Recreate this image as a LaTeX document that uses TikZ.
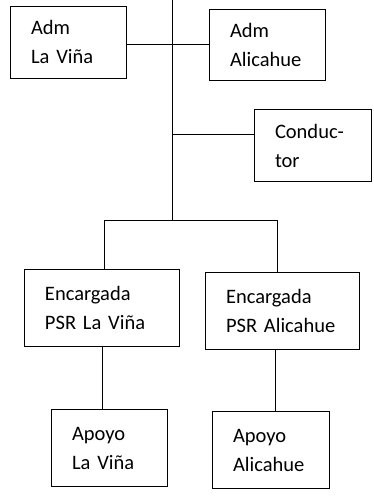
\documentclass[tikz,border=0pt]{standalone}
\usepackage{fontspec}
\setmainfont{Carlito}
\usetikzlibrary{positioning}
\tikzset{
  orgbox/.style={draw, line width=1pt, align=left, inner xsep=21pt, inner ysep=0pt,
    font=\fontsize{20.5}{29}\selectfont},
  orgline/.style={line width=1pt},
}
\begin{document}
\begin{tikzpicture}[x=1pt,y=-1pt]
\useasboundingbox (0,0) rectangle (374,499);

% boxes
\node[orgbox, text width=74pt, minimum height=72pt] (admvina) at (68,42) {Adm\\La Viña};
\node[orgbox, text width=74pt, minimum height=71pt] (admali) at (267,45) {Adm\\Alicahue};
\node[orgbox, text width=75pt, minimum height=72pt] (cond) at (312.5,145.5) {Conduc-\\tor};
\node[orgbox, text width=113pt, minimum height=77pt] (encvina) at (101.5,308) {Encargada\\PSR La Viña};
\node[orgbox, text width=112pt, minimum height=77pt] (encali) at (282,311) {Encargada\\PSR Alicahue};
\node[orgbox, text width=74pt, minimum height=77pt] (apovina) at (109,448) {Apoyo\\La Viña};
\node[orgbox, text width=75pt, minimum height=77pt] (apoali) at (270.5,450) {Apoyo\\Alicahue};

% junctions of the tree
\coordinate (top) at (172,0);
\coordinate (jadm) at (172,44);
\coordinate (jcond) at (172,134);
\coordinate (jbus) at (172,220);
\coordinate (busl) at (104,220);
\coordinate (busr) at (277,220);
\coordinate (lowl) at (102,0);
\coordinate (lowr) at (275,0);

\draw[orgline] (top) -- (jbus);
\draw[orgline] (admvina.east |- jadm) -- (admali.west |- jadm);
\draw[orgline] (jcond) -- (cond.west |- jcond);
\draw[orgline] (busl) -- (busr);
\draw[orgline] (busl) -- (busl |- encvina.north);
\draw[orgline] (busr) -- (busr |- encali.north);
\draw[orgline] (lowl |- encvina.south) -- (lowl |- apovina.north);
\draw[orgline] (lowr |- encali.south) -- (lowr |- apoali.north);
\end{tikzpicture}
\end{document}
